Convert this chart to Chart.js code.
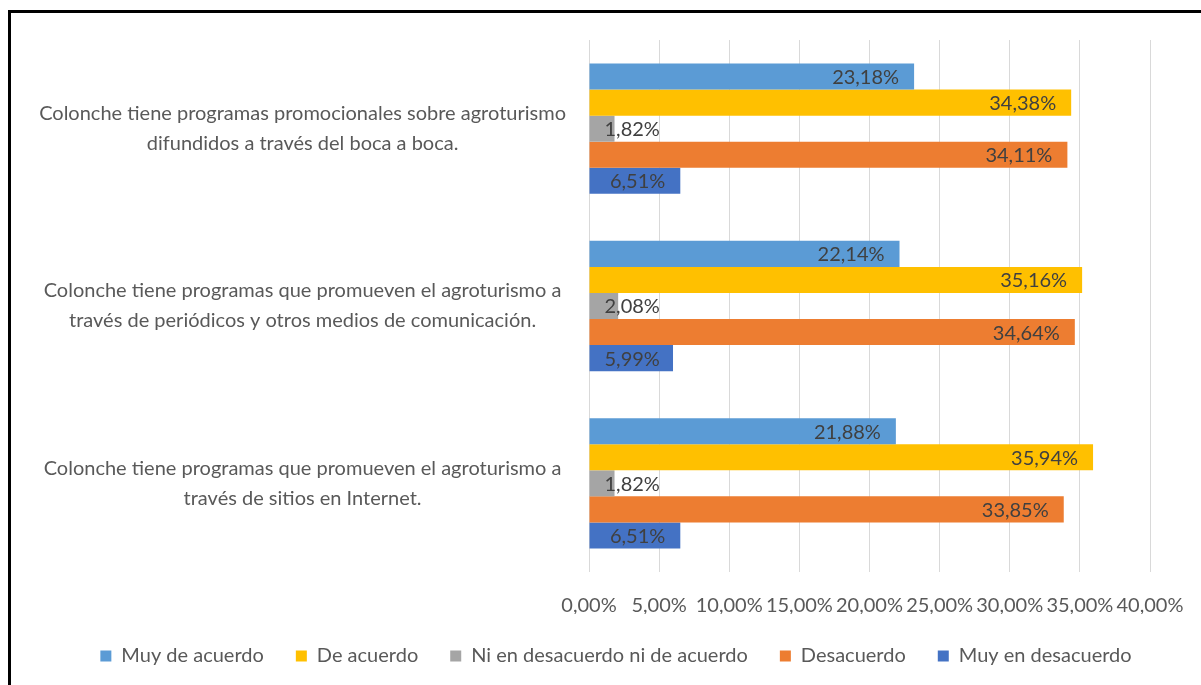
<!DOCTYPE html>
<html lang="es">
<head>
<meta charset="utf-8">
<title>Agroturismo Colonche</title>
<script src="https://cdn.jsdelivr.net/npm/chart.js@4.4.1/dist/chart.umd.min.js"></script>
<style>
  html, body { margin: 0; padding: 0; background: #fff; overflow: hidden; }
  #frame {
    position: absolute; left: 8px; top: 10px;
    width: 1400px; height: 900px;
    border: 3px solid #000; box-sizing: border-box;
  }
  #wrap { position: absolute; left: 0; top: 0; width: 1201px; height: 685px; }
</style>
</head>
<body>
<div id="frame"></div>
<div id="wrap"><canvas id="chart"></canvas></div>
<script>
"use strict";

// ── Data ──────────────────────────────────────────────────────────────────
const categories = [
  ["Colonche tiene programas promocionales sobre agroturismo", "difundidos a través del boca a boca."],
  ["Colonche tiene programas que promueven el agroturismo a", "través de periódicos y otros medios de comunicación."],
  ["Colonche tiene programas que promueven el agroturismo a", "través de sitios en Internet."]
];
const seriesNames = ["Muy de acuerdo", "De acuerdo", "Ni en desacuerdo ni de acuerdo", "Desacuerdo", "Muy en desacuerdo"];
const seriesColors = ["#5B9BD5", "#FFC000", "#A5A5A5", "#ED7D31", "#4472C4"];
const muyDeAcuerdo     = [23.18, 22.14, 21.88];
const deAcuerdo        = [34.38, 35.16, 35.94];
const niNi             = [1.82, 2.08, 1.82];
const desacuerdo       = [34.11, 34.64, 33.85];
const muyEnDesacuerdo  = [6.51, 5.99, 6.51];
const seriesValues = [muyDeAcuerdo, deAcuerdo, niNi, desacuerdo, muyEnDesacuerdo];

const FONT = "Lato, 'Open Sans', sans-serif";
const PLOT_BOTTOM = 572;
const PAD_BOTTOM = 9;
const fmt = v => v.toFixed(2).replace(".", ",") + "%";

// ── Data labels (inside end, Excel style) ─────────────────────────────────
const barLabels = {
  id: "barLabels",
  afterDatasetsDraw(chart) {
    const ctx = chart.ctx;
    ctx.save();
    ctx.font = "20px " + FONT;
    ctx.fillStyle = "#404040";
    ctx.textBaseline = "middle";
    ctx.textAlign = "left";
    chart.data.datasets.forEach((ds, i) => {
      chart.getDatasetMeta(i).data.forEach((bar, j) => {
        const txt = fmt(ds.data[j]);
        const w = ctx.measureText(txt).width;
        const x = Math.max(bar.x - 15 - w, bar.base + 15);
        ctx.fillText(txt, x, bar.y + 1);
      });
    });
    ctx.restore();
  }
};

// ── Shift legend a bit to the right ───────────────────────────────────────
const legendShift = {
  id: "legendShift",
  afterLayout(chart) {
    if (chart.legend) { chart.legend.left += 34; chart.legend.right += 34; }
  }
};

new Chart(document.getElementById("chart"), {
  type: "bar",
  data: {
    labels: categories,
    datasets: seriesNames.map((name, i) => ({
      label: name,
      data: seriesValues[i],
      backgroundColor: seriesColors[i],
      barPercentage: 1,
      categoryPercentage: 0.735
    }))
  },
  options: {
    indexAxis: "y",
    responsive: true,
    maintainAspectRatio: false,
    animation: false,
    layout: { padding: { left: 14, right: 51, top: 40, bottom: PAD_BOTTOM } },
    plugins: {
      legend: {
        position: "bottom",
        labels: {
          boxWidth: 11, boxHeight: 11, padding: 32,
          color: "#595959",
          font: { family: FONT, size: 20 }
        }
      },
      tooltip: { enabled: false }
    },
    scales: {
      x: {
        min: 0, max: 40,
        afterFit: s => {
          const lh = s.chart.legend ? s.chart.legend.height : 0;
          s.height = 685 - PLOT_BOTTOM - lh - PAD_BOTTOM;
          s.paddingLeft = 0; s.paddingRight = 0;
        },
        ticks: {
          stepSize: 5, padding: 22, color: "#595959",
          maxRotation: 0, minRotation: 0, autoSkip: false,
          font: { family: FONT, size: 20 },
          callback: v => fmt(v)
        },
        grid: { color: "#D9D9D9", drawTicks: false },
        border: { display: false }
      },
      y: {
        afterFit: s => {
          s.width = 575;
          s.paddingTop = 0; s.paddingBottom = 0;
        },
        ticks: {
          crossAlign: "center", padding: 15, color: "#595959",
          font: { family: FONT, size: 20, lineHeight: 1.5 }
        },
        grid: { display: false },
        border: { display: false }
      }
    }
  },
  plugins: [barLabels, legendShift]
});
</script>
</body>
</html>
